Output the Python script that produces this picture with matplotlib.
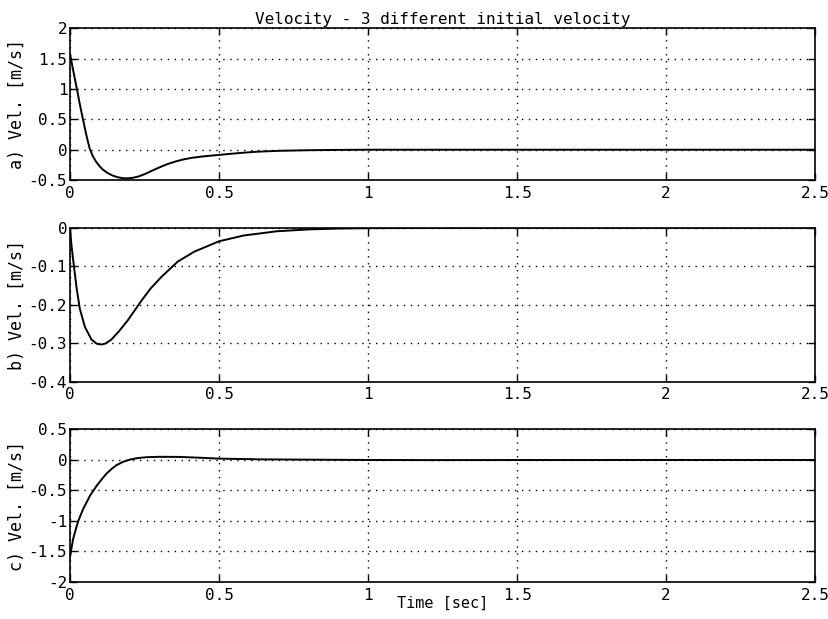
import matplotlib
matplotlib.use("Agg")
from matplotlib import pyplot as plt

plt.rcParams['font.family'] = ['DejaVu Sans Mono']
plt.rcParams['axes.unicode_minus'] = False

# time points and velocities
t_a = [0, 0.011, 0.022, 0.033, 0.044, 0.055, 0.066, 0.077, 0.088, 0.1, 0.11, 0.125, 0.143, 0.16, 0.177,
       0.195, 0.21, 0.23, 0.254, 0.275, 0.298, 0.325, 0.353, 0.38, 0.41, 0.45, 0.5, 0.574, 0.63, 0.7,
       0.8, 0.9, 1.0, 1.5, 2.0, 2.5]
v_a = [1.58, 1.3, 1.03, 0.75, 0.49, 0.24, 0.02, -0.11, -0.2, -0.275, -0.325, -0.38, -0.425, -0.452, -0.468,
       -0.47, -0.462, -0.44, -0.395, -0.345, -0.295, -0.24, -0.195, -0.16, -0.132, -0.108, -0.085, -0.052, -0.032, -0.018,
       -0.008, -0.003, 0.0, 0.0, 0.0, 0.0]

t_b = [0, 0.005, 0.011, 0.022, 0.033, 0.05, 0.072, 0.09, 0.106, 0.12, 0.139, 0.165, 0.194, 0.239, 0.27,
       0.306, 0.361, 0.417, 0.5, 0.583, 0.694, 0.806, 0.9, 1.0, 1.5, 2.0, 2.5]
v_b = [0.0, -0.045, -0.085, -0.155, -0.21, -0.257, -0.29, -0.301, -0.303, -0.3, -0.29, -0.268, -0.24, -0.19, -0.158,
       -0.128, -0.088, -0.062, -0.035, -0.02, -0.009, -0.004, -0.002, -0.001, 0.0, 0.0, 0.0]

t_c = [0, 0.005, 0.011, 0.02, 0.028, 0.044, 0.067, 0.089, 0.105, 0.122, 0.14, 0.156, 0.178, 0.2, 0.225,
       0.256, 0.3, 0.367, 0.43, 0.5, 0.64, 0.8, 1.0, 1.2, 1.5, 2.0, 2.5]
v_c = [-1.6, -1.45, -1.29, -1.13, -1.0, -0.81, -0.59, -0.43, -0.33, -0.23, -0.15, -0.09, -0.035, 0.0, 0.025,
       0.04, 0.047, 0.045, 0.033, 0.017, 0.005, 0.0, -0.005, -0.007, -0.006, -0.005, -0.005]

labels = ["a) Vel. [m/s]", "b) Vel. [m/s]", "c) Vel. [m/s]"]
ylims = [(-0.5, 2), (-0.4, 0), (-2, 0.5)]
yticks = [[-0.5, 0, 0.5, 1, 1.5, 2],
          [-0.4, -0.3, -0.2, -0.1, 0],
          [-2, -1.5, -1, -0.5, 0, 0.5]]
xticks = [0, 0.5, 1, 1.5, 2, 2.5]

fig = plt.figure(figsize=(8.29, 6.19), dpi=100)
rects = [[0.0844, 0.709, 0.899, 0.2456],
         [0.0844, 0.383, 0.899, 0.249],
         [0.0844, 0.0598, 0.899, 0.247]]
data = [(t_a, v_a), (t_b, v_b), (t_c, v_c)]

for i in range(3):
    ax = fig.add_axes(rects[i])
    t, v = data[i]
    ax.plot(t, v, color="black", lw=1.4)
    ax.set_xlim(0, 2.5)
    ax.set_ylim(*ylims[i])
    ax.set_xticks(xticks)
    ax.set_xticklabels([f"{x:g}" for x in xticks])
    ax.set_yticks(yticks[i])
    ax.set_yticklabels([f"{y:g}" for y in yticks[i]])
    ax.grid(True, color="black", linestyle=(0, (1, 4)), linewidth=1.0)
    ax.tick_params(direction="in", top=True, right=True, length=5, width=1.0,
                   labelsize=11.5)
    ax.tick_params(axis="y", pad=2)
    ax.tick_params(axis="x", pad=4)
    for s in ax.spines.values():
        s.set_linewidth(1.2)
    ax.set_ylabel(labels[i], fontsize=12, labelpad=2)
    if i == 0:
        ax.set_title("Velocity - 3 different initial velocity", fontsize=11.5, pad=3)
    if i == 2:
        ax.set_xlabel("Time [sec]", fontsize=11, labelpad=-5)

fig.savefig("out.png", dpi=100)
